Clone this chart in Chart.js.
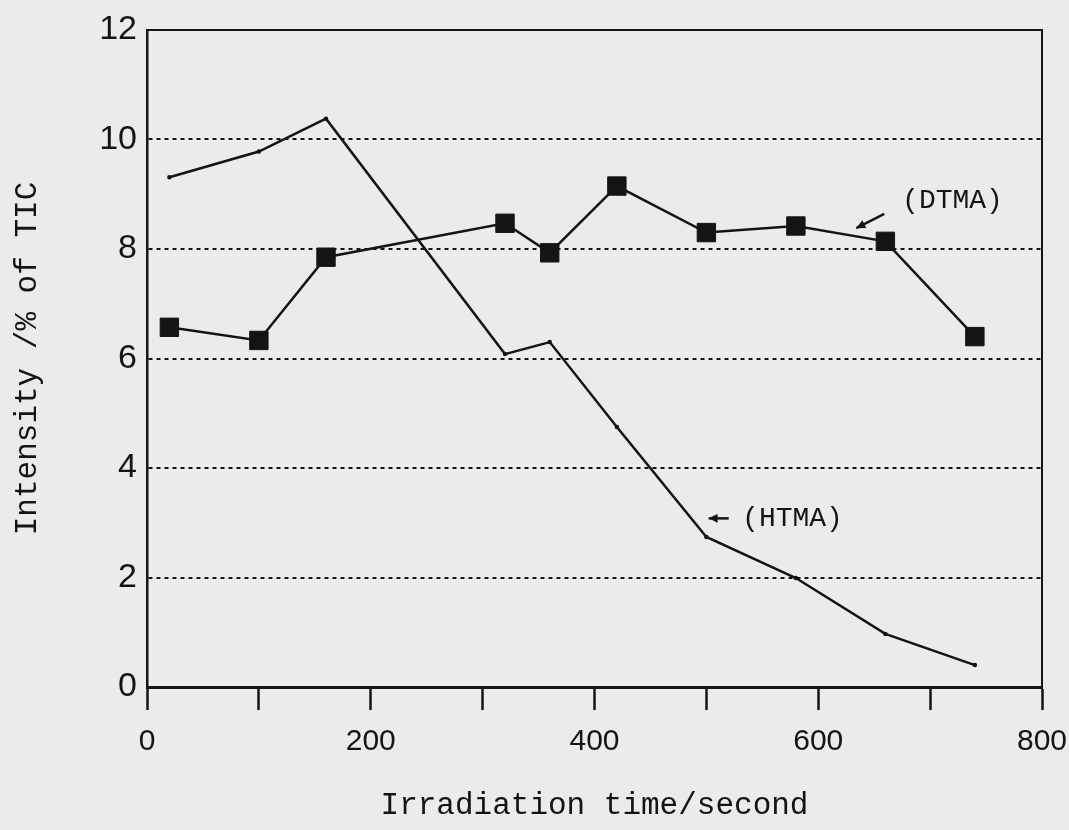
<!DOCTYPE html>
<html>
<head>
<meta charset="utf-8">
<script src="https://cdn.jsdelivr.net/npm/chart.js@4"></script>
<style>
  html, body { margin: 0; padding: 0; background: #ebebeb; }
  #wrap { width: 1069px; height: 830px; }
</style>
</head>
<body>
<div id="wrap"><canvas id="irradChart" width="1069" height="830"></canvas></div>
<script>
// values
var times = [20, 100, 160, 320, 360, 420, 500, 580, 660, 740];
var dtmaValues = [6.57, 6.33, 7.85, 8.47, 7.93, 9.15, 8.30, 8.42, 8.14, 6.40];
var htmaValues = [9.31, 9.78, 10.38, 6.08, 6.30, 4.75, 2.74, 1.99, 0.97, 0.40];
var xTicks = [0, 200, 400, 600, 800];
var yTicks = [0, 2, 4, 6, 8, 10, 12];

// series labels drawn on the plot, in data units
var seriesNotes = [
    { text: '(DTMA)', x: 720, y: 8.88, arrowFrom: [659, 8.64], arrowTo: [634, 8.38] },
    { text: '(HTMA)', x: 577, y: 3.08, arrowFrom: [520, 3.08], arrowTo: [502, 3.08] }
];

var ink = '#141414';

function toPoints(xs, ys) {
    return xs.map(function (x, i) { return { x: x, y: ys[i] }; });
}

var paperPlugin = {
    id: 'paper',
    beforeDraw: function (chart) {
        var ctx = chart.ctx;
        ctx.save();
        ctx.fillStyle = '#ebebeb';
        ctx.fillRect(0, 0, chart.width, chart.height);
        ctx.restore();
    }
};

// top and right edges of the box
var framePlugin = {
    id: 'frame',
    afterDraw: function (chart) {
        var a = chart.chartArea;
        var ctx = chart.ctx;
        ctx.save();
        ctx.strokeStyle = ink;
        ctx.lineWidth = 2;
        ctx.beginPath();
        ctx.moveTo(a.left, a.top);
        ctx.lineTo(a.right, a.top);
        ctx.lineTo(a.right, a.bottom);
        ctx.stroke();
        ctx.restore();
    }
};

var notesPlugin = {
    id: 'notes',
    afterDatasetsDraw: function (chart) {
        var ctx = chart.ctx;
        var xs = chart.scales.x, ys = chart.scales.y;
        ctx.save();
        ctx.fillStyle = ink;
        ctx.strokeStyle = ink;
        ctx.font = '28px "Liberation Mono", monospace';
        ctx.textAlign = 'center';
        ctx.textBaseline = 'middle';
        seriesNotes.forEach(function (n) {
            ctx.fillText(n.text, xs.getPixelForValue(n.x), ys.getPixelForValue(n.y));
            var x1 = xs.getPixelForValue(n.arrowFrom[0]), y1 = ys.getPixelForValue(n.arrowFrom[1]);
            var x2 = xs.getPixelForValue(n.arrowTo[0]), y2 = ys.getPixelForValue(n.arrowTo[1]);
            ctx.lineWidth = 2.5;
            ctx.beginPath();
            ctx.moveTo(x1, y1);
            ctx.lineTo(x2, y2);
            ctx.stroke();
            var ang = Math.atan2(y2 - y1, x2 - x1);
            ctx.beginPath();
            ctx.moveTo(x2, y2);
            ctx.lineTo(x2 - 10 * Math.cos(ang - 0.45), y2 - 10 * Math.sin(ang - 0.45));
            ctx.lineTo(x2 - 10 * Math.cos(ang + 0.45), y2 - 10 * Math.sin(ang + 0.45));
            ctx.closePath();
            ctx.fill();
        });
        ctx.restore();
    }
};

window.onload = function () {
    const ctx = document.getElementById('irradChart');
    const myChart = new Chart(ctx, {
        type: 'line',
        data: {
            datasets: [{
                label: 'DTMA',
                data: toPoints(times, dtmaValues),
                borderColor: ink,
                borderWidth: 2.5,
                pointStyle: 'rect',
                pointRadius: 13,
                pointBackgroundColor: ink,
                pointBorderColor: ink,
                pointBorderWidth: 1,
                tension: 0
            }, {
                label: 'HTMA',
                data: toPoints(times, htmaValues),
                borderColor: ink,
                borderWidth: 2.5,
                pointRadius: 1,
                pointBackgroundColor: ink,
                pointBorderColor: ink,
                tension: 0
            }]
        },
        options: {
            responsive: false,
            animation: false,
            events: [],
            layout: { padding: { left: 0, top: 30, right: 0, bottom: 0 } },
            plugins: {
                legend: { display: false },
                tooltip: { enabled: false }
            },
            scales: {
                x: {
                    type: 'linear',
                    min: 0,
                    max: 800,
                    afterFit: function (scale) {
                        scale.height = 143;
                        scale.paddingLeft = 0;
                        scale.paddingRight = 27;
                    },
                    ticks: {
                        stepSize: 100,
                        autoSkip: false,
                        maxRotation: 0,
                        color: ink,
                        padding: 17,
                        font: { family: '"Liberation Sans", Arial, sans-serif', size: 30, lineHeight: 1 },
                        callback: function (v) { return xTicks.indexOf(v) >= 0 ? String(v) : ''; }
                    },
                    grid: {
                        drawOnChartArea: false,
                        drawTicks: true,
                        tickLength: 23,
                        tickWidth: 2.5,
                        tickColor: ink
                    },
                    border: { display: true, color: ink, width: 3 },
                    title: {
                        display: true,
                        text: 'Irradiation time/second',
                        color: ink,
                        font: { family: '"Liberation Mono", monospace', size: 31, lineHeight: 1 },
                        padding: { top: 0, bottom: 9 }
                    }
                },
                y: {
                    min: 0,
                    max: 12,
                    afterFit: function (scale) { scale.width = 147; },
                    afterBuildTicks: function (scale) {
                        scale.ticks = yTicks.map(function (v) { return { value: v }; });
                    },
                    ticks: {
                        color: ink,
                        padding: 10,
                        font: { family: '"Liberation Sans", Arial, sans-serif', size: 34, lineHeight: 1 }
                    },
                    grid: {
                        drawTicks: false,
                        lineWidth: 2,
                        color: function (c) {
                            var v = c.tick ? c.tick.value : 0;
                            return (v > 0 && v < 12) ? ink : 'rgba(0,0,0,0)';
                        }
                    },
                    border: { display: true, color: ink, width: 2.5, dash: [4, 4] },
                    title: {
                        display: true,
                        text: 'Intensity /% of TIC',
                        color: ink,
                        font: { family: '"Liberation Mono", monospace', size: 31, lineHeight: 1 },
                        padding: { top: 12, bottom: 0 }
                    }
                }
            }
        },
        plugins: [paperPlugin, framePlugin, notesPlugin]
    });
};
</script>
</body>
</html>
